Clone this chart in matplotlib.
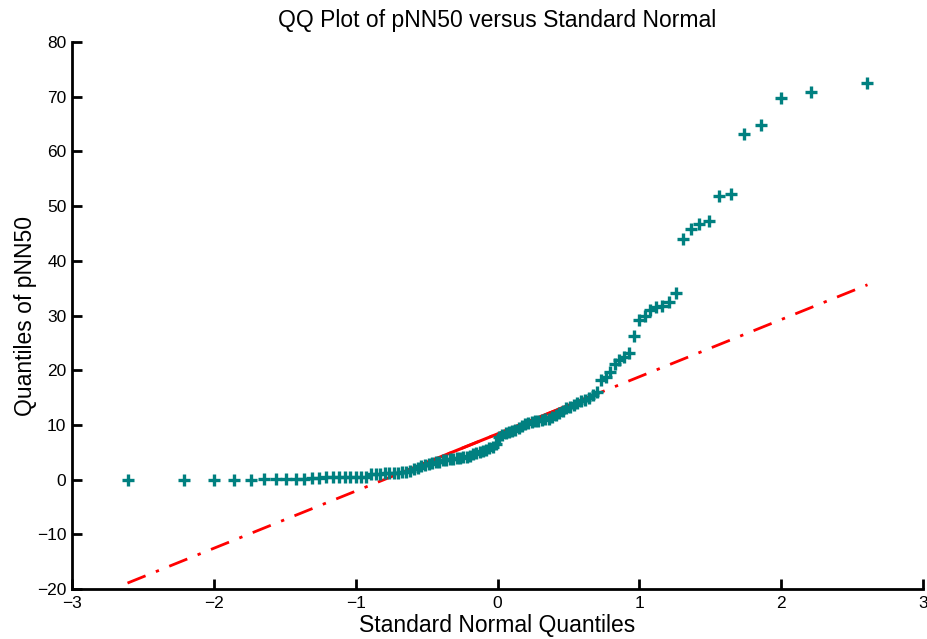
import numpy as np
import matplotlib
matplotlib.use("Agg")
import matplotlib.pyplot as plt
from statistics import NormalDist

# sorted pNN50 sample values (n = 110)
pnn50 = [
    0.0, 0.0, 0.0, 0.0, 0.0, 0.1, 0.1, 0.1, 0.2, 0.2,
    0.3, 0.3, 0.4, 0.4, 0.4, 0.4, 0.5, 0.5, 0.5, 0.5,
    1.0, 1.1, 1.1, 1.15, 1.2, 1.2, 1.25, 1.3, 1.4, 1.6,
    1.95, 2.2, 2.4, 2.6, 2.8, 3.0, 3.2, 3.3, 3.5, 3.6,
    3.7, 3.8, 3.9, 4.0, 4.1, 4.2, 4.4, 4.6, 4.8, 5.0,
    5.3, 5.5, 5.8, 6.0, 6.5, 7.8, 8.2, 8.5, 8.7, 8.9,
    9.1, 9.4, 9.8, 10.2, 10.4, 10.6, 10.7, 10.8, 10.9, 11.0,
    11.1, 11.4, 11.8, 12.2, 12.6, 13.0, 13.3, 13.7, 14.0, 14.3,
    14.6, 15.0, 15.4, 16.0, 18.2, 18.8, 19.6, 21.1, 21.8, 22.5,
    23.1, 26.3, 29.1, 30.0, 31.0, 31.5, 31.8, 32.4, 34.1, 44.0,
    45.8, 46.7, 47.2, 51.9, 52.3, 63.1, 64.9, 69.8, 70.9, 72.5,
]

title = "QQ Plot of pNN50 versus Standard Normal"
xlabel = "Standard Normal Quantiles"
ylabel = "Quantiles of pNN50"
xticks = [-3, -2, -1, 0, 1, 2, 3]
yticks = [-20, -10, 0, 10, 20, 30, 40, 50, 60, 70, 80]

y = np.sort(np.array(pnn50))
n = len(y)
nd = NormalDist()
x = np.array([nd.inv_cdf((i - 0.5) / n) for i in range(1, n + 1)])

# MATLAB-style reference line through first and third quartiles
q1, q3 = np.percentile(y, [25, 75], method="hazen")
xq1, xq3 = nd.inv_cdf(0.25), nd.inv_cdf(0.75)
slope = (q3 - q1) / (xq3 - xq1)
icpt = q1 - slope * xq1

plt.rcParams['font.family'] = ['Liberation Sans', 'DejaVu Sans']
fig = plt.figure(figsize=(9.27, 6.39), dpi=100)
ax = fig.add_axes([72 / 927, 50 / 639, 851 / 927, 547 / 639])

red = (1, 0, 0)
xe = np.array([x.min(), x.max()])
ax.plot(xe, icpt + slope * xe, color=red, lw=2, linestyle=(0, (7, 4, 1.2, 4)), zorder=2)
xs = np.array([xq1, xq3])
ax.plot(xs, icpt + slope * xs, color=red, lw=2.2, linestyle='-', zorder=2)
ax.plot(x, y, linestyle='none', marker='+', color='#008080', markersize=8,
        markeredgewidth=2.4, zorder=3)

ax.set_xlim(-3, 3)
ax.set_ylim(-20, 80)
ax.set_xticks(xticks)
ax.set_yticks(yticks)
ax.spines['top'].set_visible(False)
ax.spines['right'].set_visible(False)
for s in ('left', 'bottom'):
    ax.spines[s].set_linewidth(2)
ax.tick_params(direction='in', length=7, width=2, labelsize=12.5)
ax.tick_params(axis='x', pad=5)
ax.tick_params(axis='y', pad=4)
ax.set_title(title, fontsize=16.5, pad=11)
ax.set_xlabel(xlabel, fontsize=16.5, labelpad=2)
ax.set_ylabel(ylabel, fontsize=16.5)
ax.yaxis.set_label_coords(-0.041, 0.5)

fig.savefig("out.png", dpi=100)
